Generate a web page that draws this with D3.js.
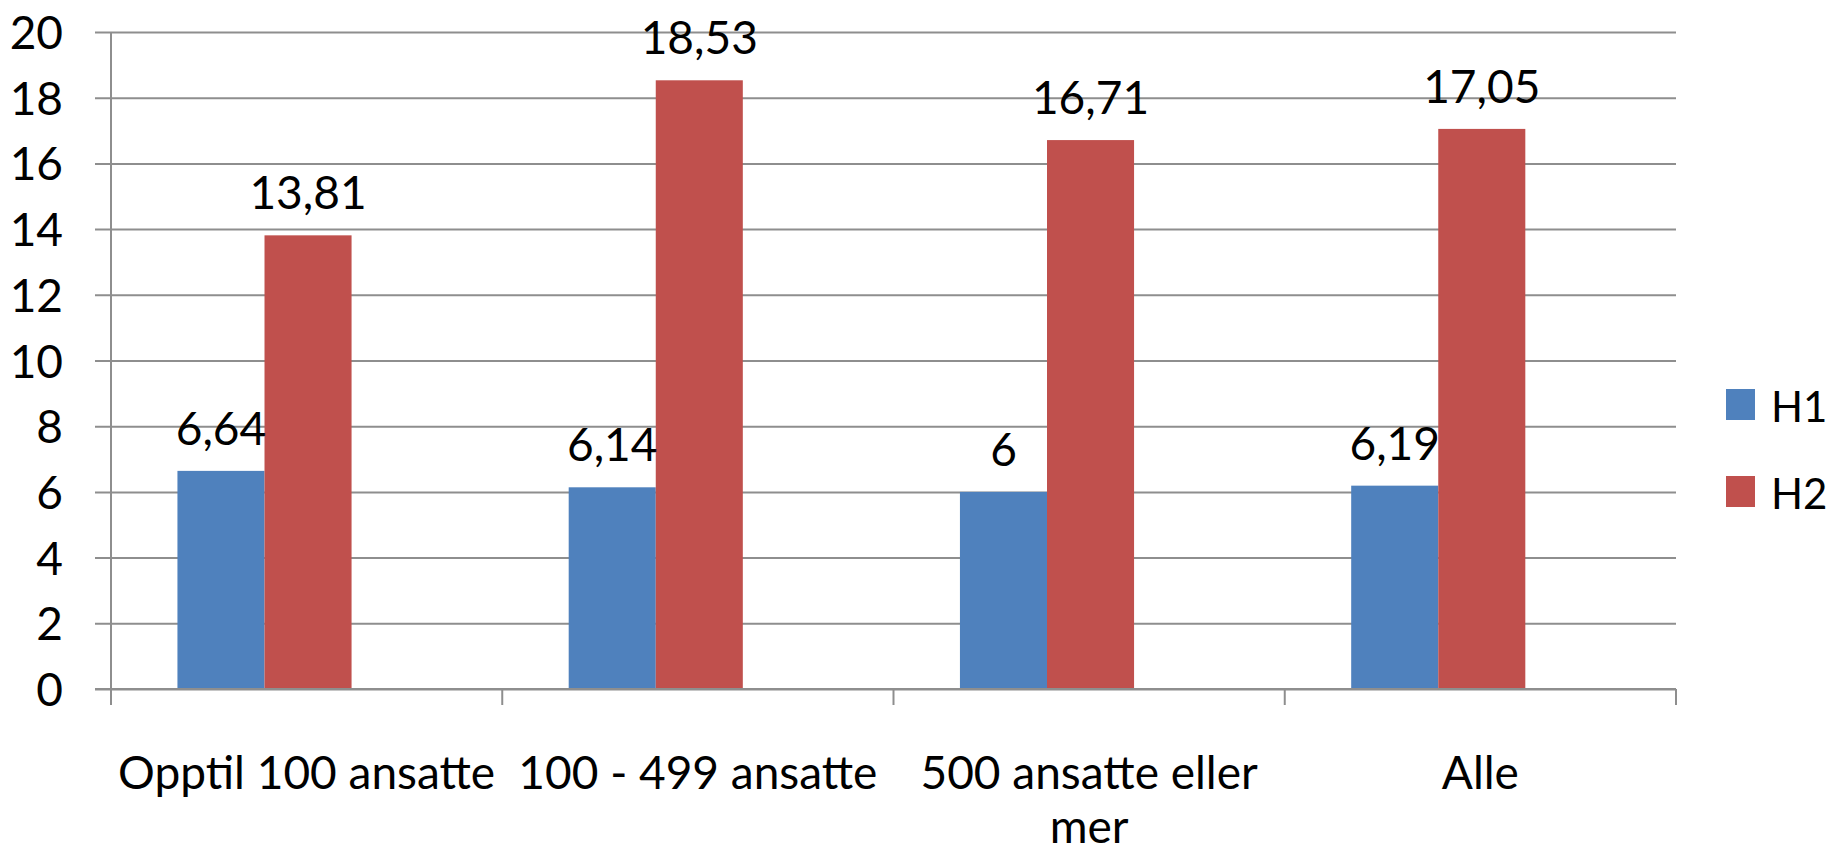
<!DOCTYPE html>
<html>
<head>
<meta charset="utf-8">
<script src="https://cdn.jsdelivr.net/npm/d3@7"></script>
<style>
  html, body { margin: 0; padding: 0; background: #ffffff; }
  svg { display: block; }
  text { font-family: Lato, "Open Sans", sans-serif; fill: #000; }
</style>
</head>
<body>
<script>
// ---- data ----
const categories = ["Opptil 100 ansatte", "100 - 499 ansatte", "500 ansatte eller mer", "Alle"];
const seriesNames = ["H1", "H2"];
const h1Values = [6.64, 6.14, 6, 6.19];
const h2Values = [13.81, 18.53, 16.71, 17.05];
const yTickValues = [0, 2, 4, 6, 8, 10, 12, 14, 16, 18, 20];
const seriesColors = ["#4F81BD", "#C0504D"];

const W = 1831, H = 853;
const plotLeft = 111, plotRight = 1676, plotTop = 32, plotBottom = 689;
const fontSize = 46;
const gridColor = "#8e8e8e";

const svg = d3.select("body").append("svg").attr("width", W).attr("height", H);

const y = d3.scaleLinear().domain([0, 20]).range([plotBottom, plotTop]);
const x0 = d3.scaleBand().domain(categories).range([plotLeft, plotRight]).padding(0);
const x1 = d3.scaleBand().domain(seriesNames).range([0, x0.bandwidth()])
  .paddingInner(0).paddingOuter(1.247).align(0.306);
const color = d3.scaleOrdinal().domain(seriesNames).range(seriesColors);

const rows = categories.map((c, i) => ({ cat: c, vals: [
  { key: "H1", value: h1Values[i] },
  { key: "H2", value: h2Values[i] }
]}));

// gridlines (extend left to form tick marks)
const grid = svg.append("g").attr("transform", `translate(${plotRight},0)`)
  .call(d3.axisLeft(y).tickValues(yTickValues).tickSize(plotRight - plotLeft + 16).tickFormat(""));
grid.select(".domain").remove();
grid.selectAll(".tick line").attr("stroke", gridColor).attr("stroke-width", 2);

// y tick labels
svg.append("g").selectAll("text").data(yTickValues).join("text")
  .attr("x", 63).attr("y", d => y(d) + 17)
  .attr("text-anchor", "end").attr("font-size", fontSize)
  .text(d => d);

// bars
const groups = svg.append("g").selectAll("g").data(rows).join("g")
  .attr("transform", d => `translate(${x0(d.cat)},0)`);
groups.selectAll("rect").data(d => d.vals).join("rect")
  .attr("x", d => x1(d.key)).attr("width", x1.bandwidth())
  .attr("y", d => y(d.value)).attr("height", d => y(0) - y(d.value))
  .attr("fill", d => color(d.key));

// data labels
groups.selectAll("text").data(d => d.vals).join("text")
  .attr("x", d => x1(d.key) + x1.bandwidth() / 2)
  .attr("y", d => y(d.value) - 26)
  .attr("text-anchor", "middle").attr("font-size", fontSize)
  .text(d => String(d.value).replace(".", ","));

// y axis line
svg.append("line").attr("x1", plotLeft).attr("x2", plotLeft).attr("y1", plotTop).attr("y2", plotBottom + 16)
  .attr("stroke", gridColor).attr("stroke-width", 2);

// x axis
const xAxisG = svg.append("g");
xAxisG.append("line").attr("x1", plotLeft - 16).attr("x2", plotRight).attr("y1", plotBottom).attr("y2", plotBottom)
  .attr("stroke", gridColor).attr("stroke-width", 2);
const boundaries = categories.map(c => x0(c)).concat([x0.range()[1]]);
xAxisG.selectAll("line.tk").data(boundaries).join("line").attr("class", "tk")
  .attr("x1", d => d).attr("x2", d => d).attr("y1", plotBottom).attr("y2", plotBottom + 16)
  .attr("stroke", gridColor).attr("stroke-width", 2);

// category labels with wrapping
const catText = svg.append("g").selectAll("text").data(categories).join("text")
  .attr("x", d => x0(d) + x0.bandwidth() / 2)
  .attr("y", 789)
  .attr("text-anchor", "middle").attr("font-size", fontSize);
catText.each(function(d) {
  const t = d3.select(this);
  const words = d.split(" ");
  const maxW = x0.bandwidth() - 4;
  const cx = x0(d) + x0.bandwidth() / 2;
  let line = [];
  let tspan = t.append("tspan").attr("x", cx).attr("dy", 0);
  words.forEach(w => {
    line.push(w);
    tspan.text(line.join(" "));
    if (tspan.node().getComputedTextLength() > maxW && line.length > 1) {
      line.pop();
      tspan.text(line.join(" "));
      line = [w];
      tspan = t.append("tspan").attr("x", cx).attr("dy", 54).text(w);
    }
  });
});

// legend
const legend = svg.append("g").selectAll("g").data(seriesNames).join("g")
  .attr("transform", (d, i) => `translate(1726,${389 + i * 87})`);
legend.append("rect").attr("width", 29).attr("height", 31).attr("fill", d => color(d));
legend.append("text").attr("x", 45).attr("y", 33).attr("font-size", 42).text(d => d);
</script>
</body>
</html>
